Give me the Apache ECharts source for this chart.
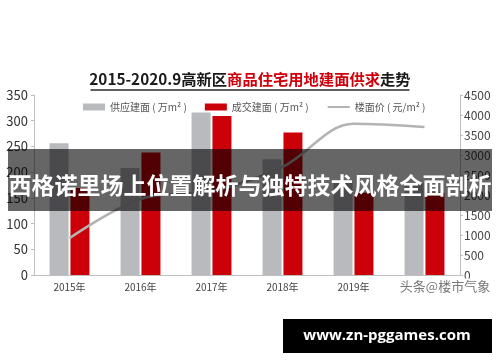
<!DOCTYPE html>
<html>
<head>
<meta charset="utf-8">
<script src="https://cdn.jsdelivr.net/npm/echarts@6/dist/echarts.min.js"></script>
<style>
html,body{margin:0;padding:0;background:#fff;}
#c{width:500px;height:362px;}
</style>
</head>
<body>
<div id="c"></div>
<script>
const categories = ['2015年', '2016年', '2017年', '2018年', '2019年', '2020.9'];
const supplyArea = [256, 208, 316, 225, 180, 179];
const dealArea = [169, 238, 309, 277, 160, 160];
const landPrice = [920, 1900, 2100, 2700, 3780, 3700];
const leftTicks = { min: 0, max: 350, interval: 50 };
const rightTicks = { min: 0, max: 4500, interval: 500 };
const seriesNames = ['供应建面 ( 万m² )', '成交建面 ( 万m² )', '楼面价 ( 元/m² )'];

const font = '"Noto Sans CJK SC", "Noto Sans", sans-serif';
const chart = echarts.init(document.getElementById('c'), null, { renderer: 'canvas' });
chart.setOption({
  backgroundColor: '#ffffff',
  animation: false,
  textStyle: { fontFamily: font },
  legend: {
    left: 78, top: 97,
    itemGap: 18,
    itemWidth: 22, itemHeight: 7,
    textStyle: { fontSize: 10, color: '#555', fontFamily: font },
    data: [
      { name: seriesNames[0], icon: 'rect' },
      { name: seriesNames[1], icon: 'rect' },
      { name: seriesNames[2], itemStyle: { opacity: 0 } }
    ]
  },
  grid: { left: 34, right: 40, top: 95, bottom: 87 },
  xAxis: {
    type: 'category',
    data: categories,
    axisLine: { lineStyle: { color: '#bfbfbf', width: 1 } },
    axisTick: { show: false },
    axisLabel: { fontSize: 10, color: '#444', margin: 7, fontFamily: font }
  },
  yAxis: [
    {
      type: 'value', min: leftTicks.min, max: leftTicks.max, interval: leftTicks.interval,
      splitLine: { show: false },
      axisLine: { show: true, lineStyle: { color: '#bfbfbf' } },
      axisTick: { show: true, length: 3, lineStyle: { color: '#bfbfbf' } },
      axisLabel: { fontSize: 13, color: '#333', margin: 6, fontFamily: font }
    },
    {
      type: 'value', min: rightTicks.min, max: rightTicks.max, interval: rightTicks.interval,
      position: 'right',
      splitLine: { show: false },
      axisLine: { show: true, lineStyle: { color: '#bfbfbf' } },
      axisTick: { show: true, length: 3, lineStyle: { color: '#bfbfbf' } },
      axisLabel: { fontSize: 12, color: '#444', margin: 4, fontFamily: font,
        formatter: function (v) { return String(v); } }
    }
  ],
  series: [
    {
      name: seriesNames[0], type: 'bar', data: supplyArea,
      barWidth: 19, barGap: '10%',
      itemStyle: { color: '#b8babe' }
    },
    {
      name: seriesNames[1], type: 'bar', data: dealArea,
      barWidth: 19,
      itemStyle: { color: '#cc0008' }
    },
    {
      name: seriesNames[2], type: 'line', data: landPrice, yAxisIndex: 1,
      smooth: 0.35, symbol: 'none',
      lineStyle: { color: '#b3b3b3', width: 2.5 },
      itemStyle: { color: '#b3b3b3' }
    }
  ],
  title: {
    text: '{a|2015-2020.9高新区}{b|商品住宅用地建面供求}{a|走势}\n{u|}',
    left: 'center', top: 64,
    textStyle: {
      rich: {
        a: { fontSize: 15.3, fontWeight: 'bold', color: '#1a1a1a', fontFamily: font, lineHeight: 20 },
        b: { fontSize: 15.3, fontWeight: 'bold', color: '#d0000c', fontFamily: font, lineHeight: 20 },
        u: { width: 319, height: 1.6, lineHeight: 2, backgroundColor: '#2a2a2a', fontSize: 1 }
      }
    }
  },
  graphic: {
    elements: [
      {
        type: 'rect', shape: { x: 8, y: 149, width: 484, height: 62 },
        style: { fill: 'rgba(0,0,0,0.6)' }, z: 100
      },
      {
        type: 'text', x: 250, y: 185, z: 101,
        style: {
          text: '西格诺里场上位置解析与独特技术风格全面剖析',
          fill: '#ffffff', fontSize: 23, fontWeight: 'bold', fontFamily: font,
          align: 'center', verticalAlign: 'middle'
        }
      },
      {
        type: 'text', x: 445, y: 286, z: 101,
        style: {
          text: '头条@楼市气象',
          fill: '#777', fontSize: 13, fontFamily: font,
          align: 'center', verticalAlign: 'middle',
          backgroundColor: '#ffffff', padding: [1, 3]
        }
      },
      {
        type: 'rect', shape: { x: 283, y: 319, width: 209, height: 34 },
        style: { fill: '#000' }, z: 100
      },
      {
        type: 'text', x: 387, y: 336, z: 101,
        style: {
          text: 'www.zn-pggames.com',
          fill: '#ffffff', fontSize: 15, fontWeight: 'bold', fontFamily: '"Open Sans", "DejaVu Sans", sans-serif',
          align: 'center', verticalAlign: 'middle'
        }
      }
    ]
  }
});
</script>
</body>
</html>
